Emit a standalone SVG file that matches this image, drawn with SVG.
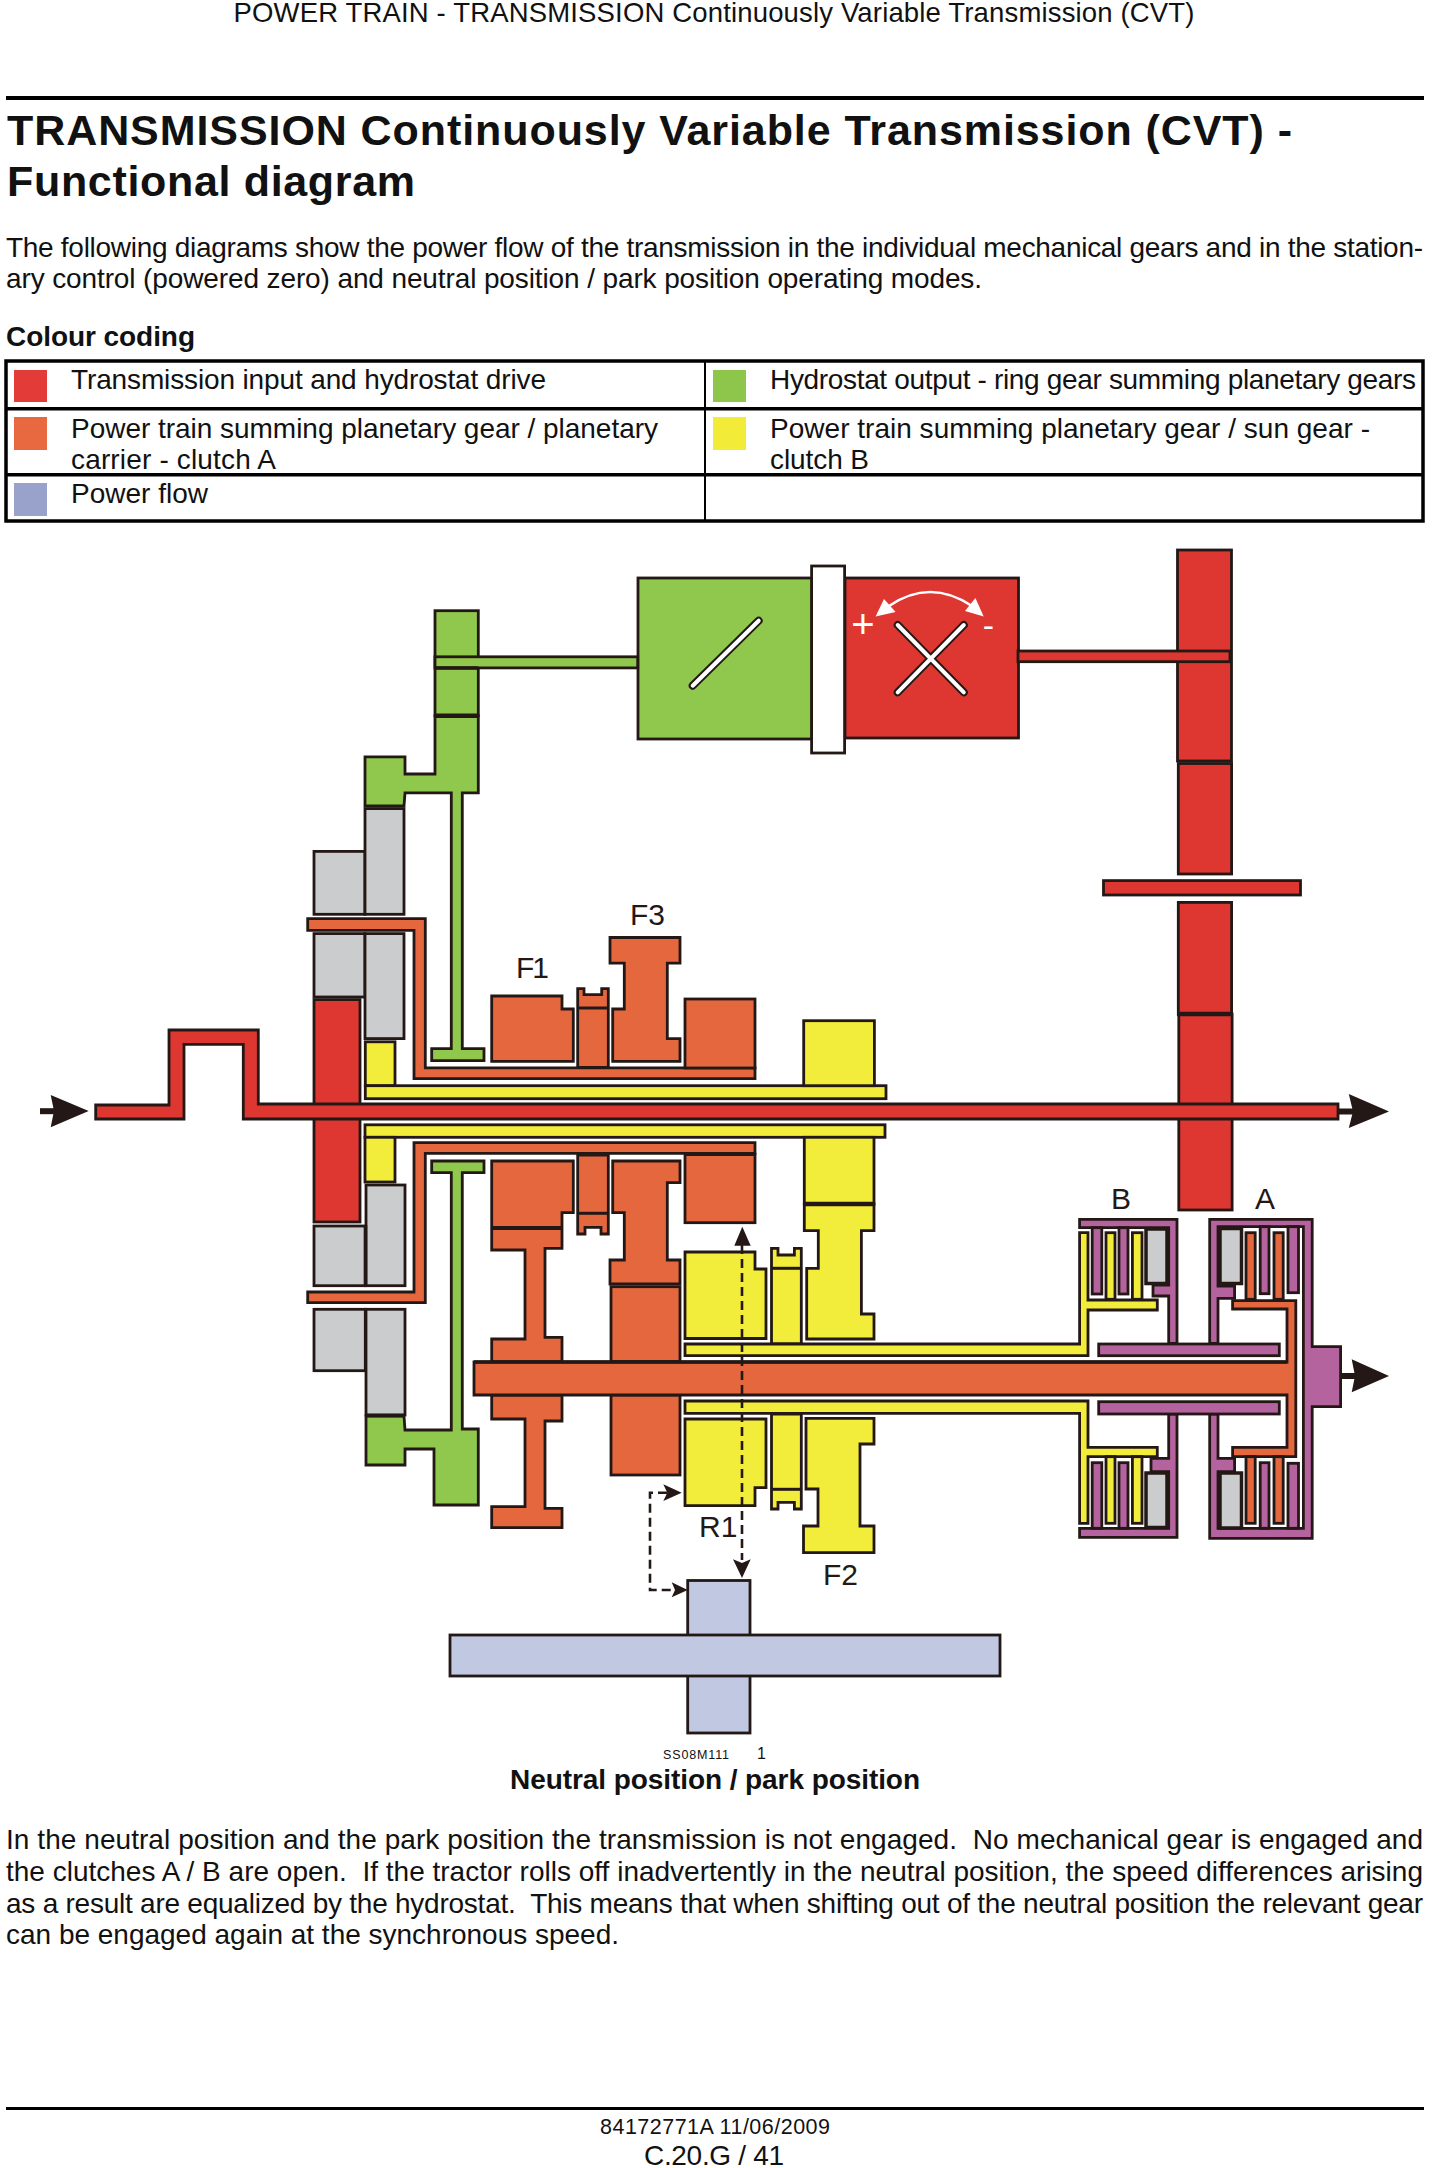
<svg xmlns="http://www.w3.org/2000/svg" width="1432" height="2168" viewBox="0 0 1432 2168">
<style>
text{font-family:"Liberation Sans",Arial,sans-serif;fill:#111;white-space:pre}
.body{font-size:28px}
.bold{font-weight:bold}
.lab{font-size:30px;fill:#231815}
.s{stroke:#231815;stroke-width:2.8;stroke-linejoin:miter}
.r{fill:#de3631}.g{fill:#8fc84c}.o{fill:#e4673e}.y{fill:#f2ec3a}.p{fill:#b5639f}.k{fill:#cbccce}.b{fill:#c1c8e2}.w{fill:#fff}
.t{stroke:#231815;stroke-width:4.5;fill:none}
.tb{fill:#000}
.dash{fill:none;stroke:#231815;stroke-width:2.6;stroke-dasharray:9 5}
.ah{fill:#231815}
.sym{fill:none;stroke:#231815;stroke-width:8;stroke-linecap:round}
.syw{fill:none;stroke:#fff;stroke-width:4;stroke-linecap:round}
</style>
<rect width="1432" height="2168" fill="#fff"/>
<g id="page-text">
<text x="714" y="22" font-size="27.500" text-anchor="middle" textLength="961">POWER TRAIN - TRANSMISSION Continuously Variable Transmission (CVT)</text>
<rect x="6" y="96" width="1418" height="4" class="tb"/>
<text x="7" y="145" font-size="43" class="bold" textLength="1285">TRANSMISSION Continuously Variable Transmission (CVT) -</text>
<text x="7" y="196" font-size="43" class="bold" textLength="408">Functional diagram</text>
<text x="6" y="256.500" class="body" textLength="1417">The following diagrams show the power flow of the transmission in the individual mechanical gears and in the station-</text>
<text x="6" y="288" class="body" textLength="976">ary control (powered zero) and neutral position / park position operating modes.</text>
<text x="6" y="346" class="body bold" textLength="189">Colour coding</text>
</g>
<g id="legend">
<rect x="6" y="361" width="1417" height="160" fill="none" stroke="#000" stroke-width="3.5"/>
<rect x="5" y="407" width="1419" height="3.500" class="tb"/>
<rect x="5" y="473" width="1419" height="3.500" class="tb"/>
<rect x="704" y="361" width="2" height="160" class="tb"/>
<rect x="14" y="370" width="33" height="32" fill="#e23b38"/>
<rect x="713" y="370" width="33" height="32" fill="#8dc64b"/>
<rect x="14" y="417" width="33" height="33" fill="#e8693f"/>
<rect x="713" y="417" width="33" height="33" fill="#f2ec38"/>
<rect x="14" y="483" width="33" height="33" fill="#98a2cb"/>
<text x="71" y="389" class="body" textLength="475">Transmission input and hydrostat drive</text>
<text x="770" y="389" class="body" textLength="646">Hydrostat output - ring gear summing planetary gears</text>
<text x="71" y="437.500" class="body" textLength="587">Power train summing planetary gear / planetary</text>
<text x="71" y="469" class="body" textLength="205">carrier - clutch A</text>
<text x="770" y="437.500" class="body" textLength="600">Power train summing planetary gear / sun gear -</text>
<text x="770" y="469" class="body" textLength="99">clutch B</text>
<text x="71" y="503" class="body" textLength="137">Power flow</text>
</g>
<g id="hydrostat">
<rect x="638" y="578" width="174" height="161" class="g s"/>
<rect x="845" y="578" width="173.500" height="160" class="r s"/>
<rect x="811.600" y="566" width="33" height="187" class="w s"/>
<path d="M692.700 685.700 758.700 620.700" class="sym"/><path d="M692.700 685.700 758.700 620.700" class="syw"/>
<path d="M897.700 625 963.800 692.300M963.800 625 897.700 692.300" class="sym"/><path d="M897.700 625 963.800 692.300M963.800 625 897.700 692.300" class="syw"/>
<path d="M889 606Q930 578 972 606" fill="none" stroke="#fff" stroke-width="2.500"/>
<path d="M875.600 616.500 884 599 895.600 612Z" fill="#fff"/><path d="M983.700 616.500 975.400 598 965 611Z" fill="#fff"/>
<text x="863" y="638" font-size="40" text-anchor="middle" style="fill:#fff">+</text>
<text x="988.500" y="637" font-size="34" text-anchor="middle" style="fill:#fff">-</text>
</g>
<g id="gear-drive-red">
<rect x="1177.500" y="550" width="54" height="211" class="r s"/>
<rect x="1018" y="651" width="212" height="10.700" class="r s"/>
<rect x="1178.300" y="763.500" width="53.300" height="110.500" class="r s"/>
<rect x="1103.500" y="880.600" width="197" height="14.400" class="r s"/>
<rect x="1178.300" y="902.400" width="53.300" height="111.600" class="r s"/>
<rect x="1178.800" y="1014" width="53.300" height="196" class="r s"/>
<path d="M1177 1014H1233" class="t"/>
<rect x="314" y="999.600" width="46" height="222.400" class="r s"/>
</g>
<g id="hydrostat-output-green">
<rect x="435" y="610.700" width="43.300" height="105" class="g s"/>
<rect x="435" y="656.800" width="202.700" height="11.100" class="g s"/>
<path d="M435 667.900H478.300" class="t" style="stroke-width:3.500"/>
<path d="M478.300 715.700V792.900H462.300V1048.600H484V1060.700H431.700V1048.600H451.300V792.900H405L404 806H365V756.800H405V774H435V715.700Z" class="g s"/>
<path d="M435 715.700H478.300" class="t"/>
<path d="M366 1416H404L405 1430H451.300V1172.700H431.700V1161H484V1172.700H462.300V1429H478.300V1505H434V1449H405V1465H366Z" class="g s"/>
</g>
<g id="brake-grey">
<rect x="314" y="851.400" width="51" height="62.900" class="k s"/>
<rect x="365" y="808.600" width="39" height="105.700" class="k s"/>
<rect x="314" y="933.600" width="51" height="63.400" class="k s"/>
<rect x="365" y="933.600" width="39" height="105" class="k s"/>
<rect x="314" y="1226" width="51.300" height="59.700" class="k s"/>
<rect x="366" y="1185" width="39" height="100.700" class="k s"/>
<rect x="314" y="1309.300" width="51.300" height="61.400" class="k s"/>
<rect x="366" y="1309.300" width="39" height="105.700" class="k s"/>
<path d="M365 1415.500H405M365.500 1225V1286" class="t" style="stroke-width:3.500"/>
</g>
<g id="yellow-sun-shafts">
<rect x="365.300" y="1041.800" width="29.700" height="44" class="y s"/>
<rect x="365.300" y="1085.700" width="520.700" height="13" class="y s"/>
<rect x="365" y="1124.800" width="520" height="12.500" class="y s"/>
<rect x="365" y="1137.300" width="30" height="44.700" class="y s"/>
<rect x="803.700" y="1020.700" width="70.700" height="65" class="y s"/>
<rect x="804.300" y="1137.300" width="69.700" height="66.700" class="y s"/>
<path d="M804.300 1204H874V1230.700H861.400V1314H874V1339H806.700V1268.300H818.300V1230.700H804.300Z" class="y s"/>
<path d="M804.300 1204H874" class="t"/>
<path d="M806 1418.300H874V1444H860V1526H874V1552.700H803.500V1526H818V1489H806Z" class="y s"/>
<path d="M771.500 1248.300H778V1255H794.400V1248.300H801.300V1344H771.500Z" class="y s"/>
<path d="M771.500 1268.300H801.300" class="t" style="stroke-width:3"/>
<path d="M771.500 1414H801.300V1509H794.400V1502.300H778V1509H771.500Z" class="y s"/>
<path d="M771.500 1489.300H801.300" class="t" style="stroke-width:3"/>
<path d="M685 1252H755V1269H766V1338.500H685Z" class="y s"/>
<path d="M685 1419H766V1487.700H755V1505.700H685Z" class="y s"/>
<path d="M685 1344H1079.600V1232.700H1088V1300H1157.300V1310H1088V1355.700H685Z" class="y s"/>
<path d="M685 1401H1088V1447.300H1157.300V1456.700H1088V1523.300H1079.600V1413.300H685Z" class="y s"/>
<rect x="1106" y="1232.700" width="9" height="66.600" class="y s"/>
<rect x="1132.400" y="1232.700" width="9.600" height="66.600" class="y s"/>
<rect x="1106" y="1456.700" width="9" height="66.600" class="y s"/>
<rect x="1132.400" y="1456.700" width="9.600" height="66.600" class="y s"/>
</g>
<g id="planetary-carrier-orange">
<path d="M307.700 918.600H425.300V1067.900H755V1078.600H414V930.400H307.700Z" class="o s"/>
<path d="M491.700 996H562V1009H573.300V1061.400H491.700Z" class="o s"/>
<path d="M577.700 988.600H584V994.600H601.700V988.600H608.300V1067.500H577.700Z" class="o s"/>
<path d="M577.700 1007.900H608.300M577.700 1067.500H608.300" class="t" style="stroke-width:3"/>
<path d="M610 937.500H680V963.200H667.300V1038.600H680V1061.400H612.700V1009H624.300V963.200H610Z" class="o s"/>
<rect x="685" y="999" width="70" height="69" class="o s"/>
<path d="M307.700 1302.700H425.300V1153.300H755V1142.700H414V1292H307.700Z" class="o s"/>
<path d="M577.700 1155H608.300V1234H601V1227.300H585V1234H577.700Z" class="o s"/>
<path d="M577.700 1213.300H608.300" class="t" style="stroke-width:3"/>
<rect x="685" y="1154.300" width="70" height="68.400" class="o s"/>
<path d="M685 1154.300H755" class="t" style="stroke-width:3.500"/>
<path d="M612.700 1161H680V1182.700H667.300V1260H680V1284H610V1260H624.300V1212.700H612.700Z" class="o s"/>
<rect x="611" y="1286.700" width="69" height="75" class="o s"/>
<rect x="611" y="1395" width="69" height="80" class="o s"/>
<path d="M491.700 1161H573.300V1212.700H562V1248.300H545V1337.300H562V1362H491.700V1339H525V1250H491.700Z" class="o s"/>
<path d="M491.700 1228H562" class="t" style="stroke-width:4"/>
<path d="M491.700 1395H562V1421H545V1508.300H562V1527.700H491.700V1506.700H525V1419H491.700Z" class="o s"/>
<path d="M1232.600 1300.700H1295.800V1456.700H1232.600V1447.300H1287V1395H474V1362H1287V1309H1232.600Z" class="o s"/>
<path d="M474 1362H1287" class="t" style="stroke-width:3.500"/>
<rect x="1246" y="1232.700" width="9.200" height="66.600" class="o s"/>
<rect x="1274" y="1232.700" width="9.200" height="66.600" class="o s"/>
<rect x="1246" y="1456.700" width="9.200" height="66.600" class="o s"/>
<rect x="1274" y="1456.700" width="9.200" height="66.600" class="o s"/>
</g>
<g id="clutch-B">
<path d="M1177 1219.300H1079.600V1227.700H1168.700V1285H1153V1296H1168.700V1343.300H1177Z" class="p s"/>
<rect x="1092.200" y="1227.700" width="9.600" height="66.300" class="p s"/>
<rect x="1119" y="1227.700" width="9" height="66.300" class="p s"/>
<rect x="1146" y="1229" width="21" height="54.500" class="k s" style="stroke-width:3.500"/>
<path d="M1177 1537.300H1079.600V1528.300H1168.700V1471.700H1151V1458.300H1168.700V1414H1177Z" class="p s"/>
<rect x="1092.200" y="1462.700" width="9.600" height="65.600" class="p s"/>
<rect x="1119" y="1462.700" width="9" height="65.600" class="p s"/>
<rect x="1146" y="1473" width="21" height="54.500" class="k s" style="stroke-width:3.500"/>
</g>
<g id="clutch-A">
<path d="M1209.700 1219.300H1312.200V1346.700H1340.600V1406.700H1312.200V1538.300H1209.700V1414H1218V1458.300H1234.600V1471.700H1218V1528.300H1303.400V1226.700H1218V1286H1234.600V1298.300H1218V1343.300H1209.700Z" class="p s"/>
<rect x="1260.200" y="1226.700" width="8.800" height="67" class="p s"/>
<rect x="1288" y="1226.700" width="10.500" height="66" class="p s"/>
<rect x="1260.200" y="1462.700" width="8.800" height="65.600" class="p s"/>
<rect x="1288" y="1463.300" width="10.500" height="65" class="p s"/>
<rect x="1220" y="1228.500" width="21.500" height="55" class="k s" style="stroke-width:3.500"/>
<rect x="1220" y="1473" width="21.500" height="55" class="k s" style="stroke-width:3.500"/>
<rect x="1098.700" y="1344" width="180.600" height="11.700" class="p s"/>
<rect x="1098.700" y="1401.700" width="180.600" height="12.300" class="p s"/>
</g>
<g id="power-flow-blue">
<rect x="687.700" y="1580.500" width="62.300" height="152.500" class="b s"/>
<rect x="450" y="1635" width="550" height="41" class="b s"/>
</g>
<g id="connectors">
<path d="M95.700 1105H169V1030H258.300V1104H1338V1119H243.300V1044.300H184V1119H95.700Z" class="r s"/>
<path d="M40 1111.200H60" stroke="#231815" stroke-width="6"/>
<path d="M50.700 1095 88.700 1111 50.700 1127.300 54 1111Z" class="ah"/>
<path d="M1338 1111.500H1355" stroke="#231815" stroke-width="6"/>
<path d="M1348.800 1094 1389 1111.500 1348.800 1128 1353 1111.500Z" class="ah"/>
<path d="M1340.700 1376H1358" stroke="#231815" stroke-width="6"/>
<path d="M1351.700 1359.300 1389 1376 1351.700 1392.300 1355 1376Z" class="ah"/>
<path d="M742 1245V1560" class="dash"/>
<path d="M742.300 1226.700 750.700 1245.700H734.300Z" class="ah"/>
<path d="M742 1578 750.700 1559.300 742 1563 733 1559.300Z" class="ah"/>
<path d="M667 1492.700H650V1590H676" class="dash"/>
<path d="M681.700 1492.700 663.300 1484.300 667.300 1492.700 663.300 1501Z" class="ah"/>
<path d="M687.700 1590 671.700 1582.300 675 1590 671.700 1597.300Z" class="ah"/>
</g>
<g id="labels">
<text x="516" y="977.500" class="lab" textLength="33">F1</text>
<text x="630" y="925" class="lab">F3</text>
<text x="699" y="1537" class="lab">R1</text>
<text x="823" y="1585" class="lab">F2</text>
<text x="1111" y="1209" class="lab">B</text>
<text x="1255" y="1209" class="lab">A</text>
<text x="663" y="1759" font-size="12.500" textLength="66">SS08M111</text>
<text x="757" y="1759" font-size="16" style="font-family:'Liberation Sans',sans-serif">1</text>
<text x="715" y="1789" class="body bold" text-anchor="middle" textLength="410">Neutral position / park position</text>
</g>
<g id="footer-text">
<text x="6" y="1849" class="body" textLength="1417">In the neutral position and the park position the transmission is not engaged.  No mechanical gear is engaged and</text>
<text x="6" y="1881" class="body" textLength="1417">the clutches A / B are open.  If the tractor rolls off inadvertently in the neutral position, the speed differences arising</text>
<text x="6" y="1913" class="body" textLength="1417">as a result are equalized by the hydrostat.  This means that when shifting out of the neutral position the relevant gear</text>
<text x="6" y="1944" class="body" textLength="613">can be engaged again at the synchronous speed.</text>
<rect x="6" y="2107" width="1418" height="3" class="tb"/>
<text x="715" y="2134" font-size="21.500" text-anchor="middle" textLength="230">84172771A 11/06/2009</text>
<text x="714" y="2165" font-size="28" text-anchor="middle" textLength="140">C.20.G / 41</text>
</g>
</svg>
